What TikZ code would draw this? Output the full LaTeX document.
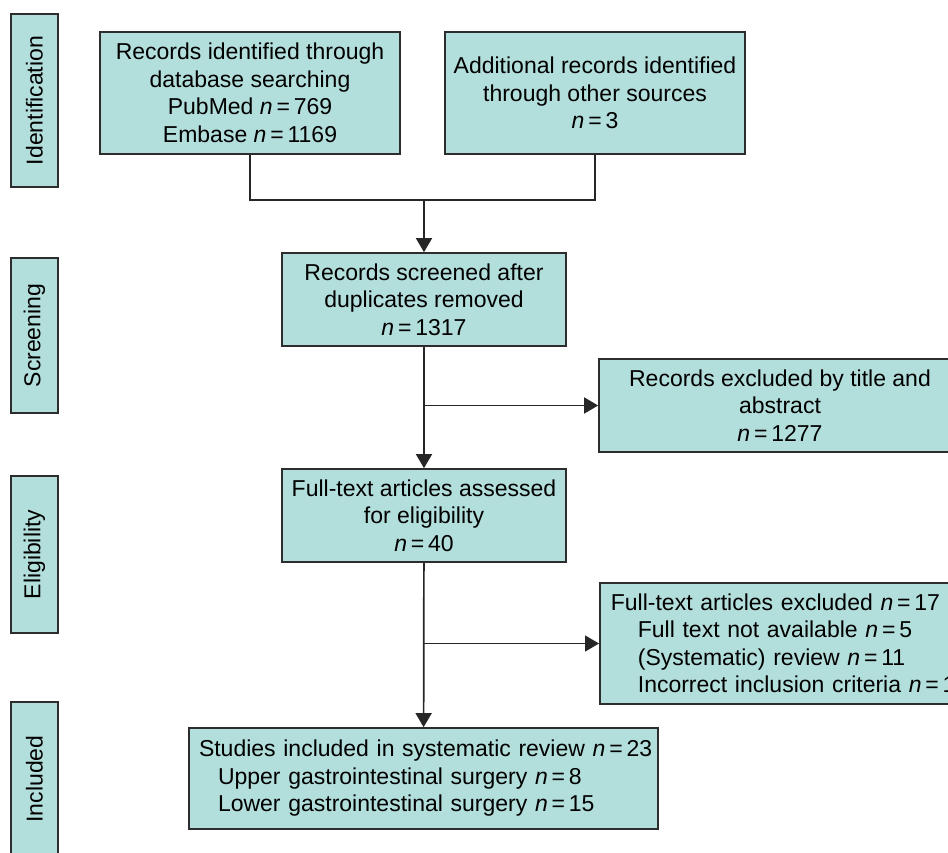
\documentclass[tikz,border=0pt]{standalone}
\usepackage{fontspec}
\setmainfont{Liberation Sans}
\usetikzlibrary{arrows.meta}
\definecolor{prismateal}{RGB}{178, 222, 219}
\definecolor{edgegray}{RGB}{45, 45, 45}
\newcommand{\nval}[1]{\textit{n}\,=\,#1}
\tikzset{
  stage/.style={draw=edgegray, fill=prismateal, line width=1.7pt, rotate=90,
                inner sep=0pt, minimum height=47pt,
                font=\fontsize{23}{27.5}\selectfont},
  box/.style={draw=edgegray, fill=prismateal, line width=1.7pt, align=center,
              inner sep=4pt, font=\fontsize{23}{27.5}\selectfont},
  listbox/.style={box, align=left, inner xsep=#1},
  conn/.style={line width=1.7pt, draw=black!85},
  arr/.style={conn, -{Triangle[length=14pt, width=16pt]}},
}
\begin{document}
\begin{tikzpicture}[x=1pt, y=-1pt]
  \useasboundingbox (0,0) rectangle (948,852);
  \clip (0,0) rectangle (948,852);
  % stage labels
  \node[stage, minimum width=173pt] (ident) at (34.5,100.5) {Identification};
  \node[stage, minimum width=155pt] (screen) at (34.5,335.5) {Screening};
  \node[stage, minimum width=157pt] (elig) at (34.5,554.5) {Eligibility};
  \node[stage, minimum width=154pt] (incl) at (34.5,779) {Included};
  % identification
  \node[box, minimum width=300pt, minimum height=122pt] (dbrec) at (250,93)
    {Records identified through\\ database searching\\ PubMed \nval{769}\\ Embase \nval{1169}};
  \node[box, minimum width=300pt, minimum height=122pt] (other) at (595,93)
    {Additional records identified\\ through other sources\\ \nval{3}};
  % screening and eligibility
  \node[box, minimum width=284pt, minimum height=93pt] (screened) at (424,299.5)
    {Records screened after\\ duplicates removed\\ \nval{1317}};
  \node[box, minimum width=362pt, minimum height=93pt] (titleexcl) at (780,405.5)
    {Records excluded by title and\\ abstract\\ \nval{1277}};
  \node[box, minimum width=284pt, minimum height=93pt] (fulltext) at (424,515.5)
    {Full-text articles assessed\\ for eligibility\\ \nval{40}};
  \node[listbox=11pt, text width=369pt, minimum height=121pt, anchor=west] (ftexcl) at (599,643.5)
    {\mbox{Full-text articles excluded \nval{17}}\\
     \hspace*{27pt}\mbox{Full text not available \nval{5}}\\
     \hspace*{27pt}\mbox{(Systematic) review \nval{11}}\\
     \hspace*{27pt}\mbox{Incorrect inclusion criteria \nval{1}}};
  % included
  \node[listbox=10pt, text width=449pt, minimum height=101pt] (studies) at (423.5,778.5)
    {\mbox{Studies included in systematic review \nval{23}}\\
     \hspace*{19pt}\mbox{Upper gastrointestinal surgery \nval{8}}\\
     \hspace*{19pt}\mbox{Lower gastrointestinal surgery \nval{15}}};
  % connectors
  \coordinate (join) at (424,200);
  \draw[conn] (dbrec.south) |- (join) -| (other.south);
  \draw[arr] (join) -- (screened.north);
  \draw[arr] (screened) -- (fulltext);
  \draw[arr] (screened.south |- titleexcl.west) -- (titleexcl.west);
  \draw[arr] (fulltext) -- (studies);
  \draw[arr] (fulltext.south |- ftexcl.west) -- (ftexcl.west);
\end{tikzpicture}
\end{document}
